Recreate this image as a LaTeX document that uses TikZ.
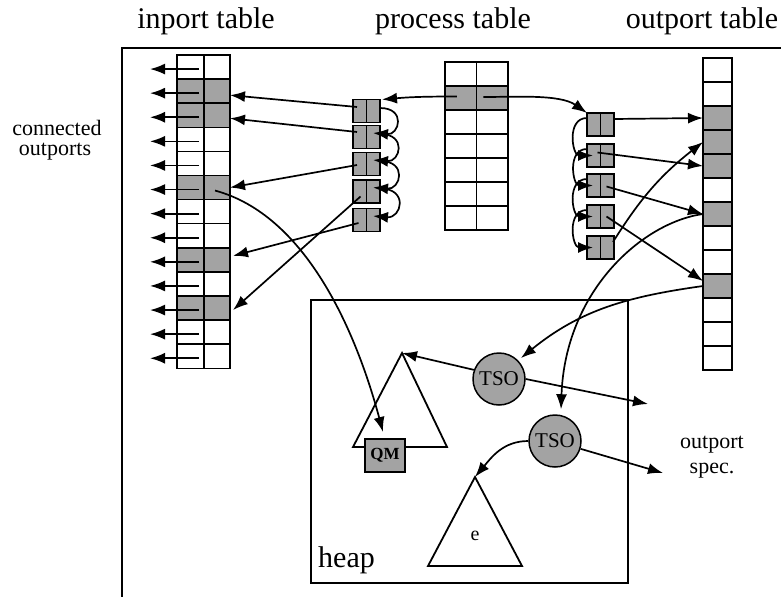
\documentclass[tikz,border=0pt]{standalone}
\usepackage{fontspec}
\setmainfont{Liberation Serif}
\usetikzlibrary{arrows.meta}
\colorlet{shade}{black!36}
\tikzset{
  arr/.style={-{Latex[length=15pt,width=11pt]}, line width=1.7pt},
  cellbox/.style={draw, line width=1.5pt, inner sep=0pt, outer sep=0pt},
  linkbox/.style={cellbox, fill=shade, minimum width=27pt, minimum height=23pt,
    path picture={\draw[line width=1.5pt] (path picture bounding box.north) -- (path picture bounding box.south);}},
  big/.style={font=\fontsize{30}{30}\selectfont},
  mid/.style={font=\fontsize{22}{22}\selectfont},
  tri/.style={line width=1.8pt, line join=miter},
  tsobox/.style={circle, draw, line width=1.5pt, fill=shade, minimum size=52pt, inner sep=0pt, font=\fontsize{21}{21}\selectfont},
}
\begin{document}
\begin{tikzpicture}[x=1pt,y=-1pt]
\useasboundingbox (0,0) rectangle (781,597);

% outer frame (runs off the right and bottom edges)
\draw[line width=2.2pt] (781,48) -- (122,48) -- (122,597);

% headings
\node[big, anchor=base] (hdr-in)  at (206,28) {inport table};
\node[big, anchor=base] (hdr-pt)  at (453,28) {process table};
\node[big, anchor=base] (hdr-out) at (702,28) {outport table};
\node[mid, anchor=base] (lbl-c1) at (57,135) {connected};
\node[mid, anchor=base] (lbl-c2) at (55,155) {outports};

% inport table: 13 rows, 2 columns
\foreach \r/\f in {1/white,2/shade,3/shade,4/white,5/white,6/shade,7/white,8/white,9/shade,10/white,11/shade,12/white,13/white}{
  \pgfmathsetmacro{\yc}{55+24.1*(\r-0.5)}
  \node[cellbox, fill=\f, minimum width=27pt, minimum height=24.1pt] (in-\r-1) at (190.5,\yc) {};
  \node[cellbox, fill=\f, minimum width=26pt, minimum height=24.1pt] (in-\r-2) at (217,\yc) {};
  \coordinate (ext-\r) at (150,\yc+2);
}

% process table: 7 rows, 2 columns
\foreach \r/\f in {1/white,2/shade,3/white,4/white,5/white,6/white,7/white}{
  \pgfmathsetmacro{\yc}{62+24*(\r-0.5)}
  \node[cellbox, fill=\f, minimum width=31.5pt, minimum height=24pt] (pt-\r-1) at (460.75,\yc) {};
  \node[cellbox, fill=\f, minimum width=31.5pt, minimum height=24pt] (pt-\r-2) at (492.25,\yc) {};
}

% outport table: 13 rows, 1 column
\foreach \r/\f in {1/white,2/white,3/shade,4/shade,5/shade,6/white,7/shade,8/white,9/white,10/shade,11/white,12/white,13/white}{
  \pgfmathsetmacro{\yc}{58+24*(\r-0.5)}
  \node[cellbox, fill=\f, minimum width=29pt, minimum height=24pt] (out-\r) at (717.5,\yc) {};
}

% linked port records
\foreach \i/\yc in {1/111,2/137,3/164,4/191.5,5/220}
  \node[linkbox] (lc\i) at (366.5,\yc) {};
\foreach \i/\yc in {1/124.5,2/155.5,3/185.5,4/216.5,5/247.5}
  \node[linkbox] (rc\i) at (600.5,\yc) {};

% heap
\node[draw, line width=2pt, minimum width=317pt, minimum height=283pt, inner sep=0pt] (heap) at (469.5,441.5) {};
\node[big, anchor=base west, inner sep=0pt] (heap-lbl) at (318,567) {heap};

\coordinate (t1top) at (402,353);
\coordinate (t1l) at (353,447);
\coordinate (t1r) at (447,447);
\draw[tri] (t1top) -- (t1l) -- (t1r) -- cycle;
\node[cellbox, fill=shade, minimum width=40pt, minimum height=33pt, font=\bfseries\fontsize{17}{17}\selectfont] (qm) at (385,455.5) {QM};

\coordinate (t2top) at (475,477);
\coordinate (t2l) at (428,566);
\coordinate (t2r) at (522,566);
\draw[tri] (t2top) -- (t2l) -- (t2r) -- cycle;
\node[font=\fontsize{20}{20}\selectfont] (e-lbl) at (475,536) {e};

\node[tsobox] (tso1) at (499,379) {TSO};
\node[tsobox] (tso2) at (555,441) {TSO};

\node[mid, anchor=base] (spec-a) at (712,448) {outport};
\node[mid, anchor=base] (spec-b) at (712,473) {spec.};
\coordinate (spec1) at (648,404);
\coordinate (spec2) at (663,473);

% connected outports
\foreach \r in {1,...,13}
  \draw[arr] ([shift={(8.5,2)}]in-\r-1.center) -- (ext-\r);

% process table entry to its port chains
\draw[arr] ([shift={(-4,-1.5)}]pt-2-1.center) to[out=180,in=5] ([xshift=2pt]lc1.north east);
\draw[arr] ([shift={(-9,-1)}]pt-2-2.center) to[out=0,in=145,looseness=0.8] (rc1.north west);

% chain links
\foreach \i/\j in {1/2,2/3,3/4,4/5}{
  \draw[arr] ([shift={(0,-3)}]lc\i.east) to[out=0,in=-5,looseness=2.6] ([shift={(6.5,-4)}]lc\j.center);
  \draw[arr] ([shift={(0,-6.5)}]rc\i.west) to[out=180,in=180,looseness=1.4] ([shift={(-7.5,0)}]rc\j.center);
}

% inport records
\draw[arr] ([shift={(-9.5,-4)}]lc1.center) -- ([shift={(0,4)}]in-2-2.east);
\draw[arr] ([shift={(-9.5,-5)}]lc2.center) -- ([shift={(0,3)}]in-3-2.east);
\draw[arr] ([shift={(-9.5,1)}]lc3.center) -- (in-6-2.east);
\draw[arr] ([shift={(-6,5)}]lc4.center) -- ([shift={(3,2)}]in-11-2.east);
\draw[arr] ([shift={(-8,3)}]lc5.center) -- ([shift={(3,-4)}]in-9-2.east);

% outport records
\draw[arr] ([shift={(0,-5.5)}]rc1.east) -- (out-3.west);
\draw[arr] ([shift={(-3,-3)}]rc2.center) -- (out-5.west);
\draw[arr] ([shift={(6,1)}]rc3.center) -- (out-7.west);
\draw[arr] ([shift={(6,0)}]rc4.center) -- ([shift={(0,-5)}]out-10.west);
\draw[arr] ([shift={(12.5,-5.5)}]rc5.center) to[bend left=10] (out-4.west);

% into the heap
\draw[arr] ([shift={(-2,3)}]in-6-2.center) to[out=-15,in=105,out looseness=0.81,in looseness=0.92] ([shift={(-2,-7)}]qm.north);
\draw[arr] (out-7.west) to[out=188,in=88,out looseness=0.65,in looseness=1.25] ([shift={(6,-5)}]tso2.north);
\draw[arr] (out-10.west) to[out=188,in=39] ([shift={(3,-2)}]tso1.north east);

% TSO references
\draw[arr] (tso1.160) -- (t1top);
\draw[arr] (tso1.east) -- (spec1);
\draw[arr] (tso2.west) to[out=180,in=50] (t2top);
\draw[arr] (tso2.-17) -- (spec2);
\end{tikzpicture}
\end{document}
